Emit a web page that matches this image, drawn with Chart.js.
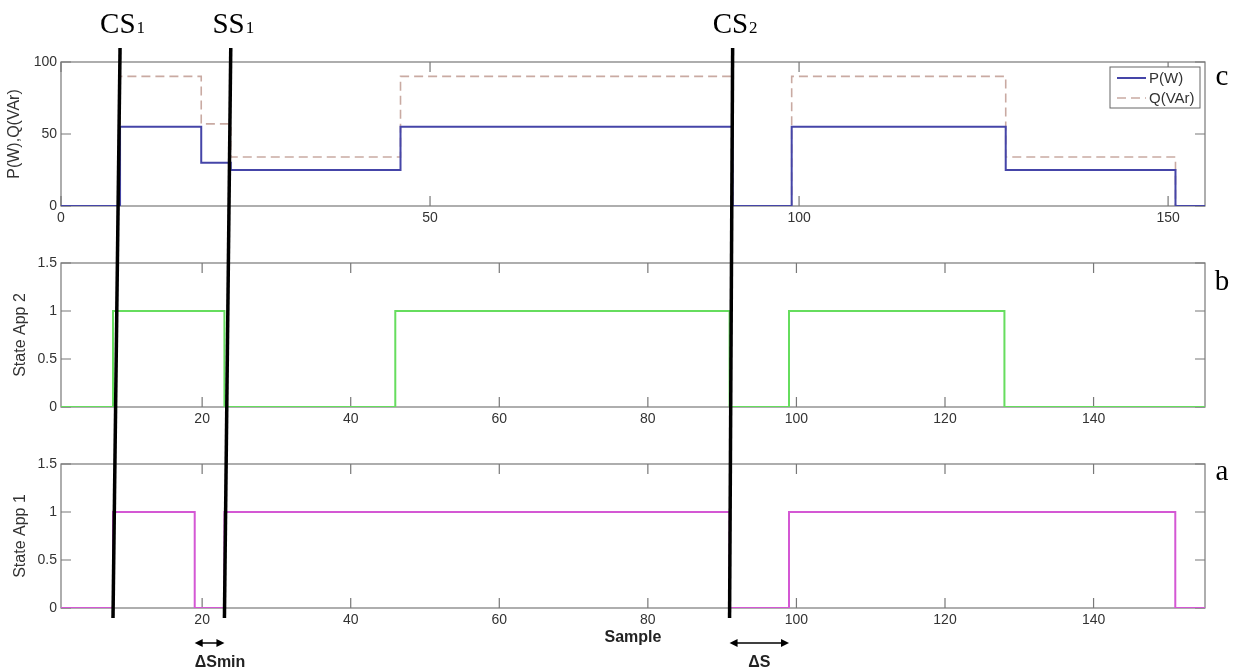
<!DOCTYPE html>
<html>
<head>
<meta charset="utf-8">
<title>Appliance states</title>
<script src="https://cdn.jsdelivr.net/npm/chart.js@4.4.1/dist/chart.umd.min.js"></script>
<style>
  body { margin: 0; background: #fff; }
  #wrap { position: relative; width: 1240px; height: 671px; background: #fff; }
  #wrap canvas { position: absolute; left: 0; }
  #power_canvas { top: 0; }
  #app2_canvas { top: 230px; }
  #app1_canvas { top: 430px; }
  #overlay_canvas { top: 0; pointer-events: none; }
</style>
</head>
<body>
<div id="wrap">
  <canvas id="power_canvas" width="1240" height="230"></canvas>
  <canvas id="app2_canvas" width="1240" height="200"></canvas>
  <canvas id="app1_canvas" width="1240" height="241"></canvas>
  <canvas id="overlay_canvas" width="1240" height="671"></canvas>
</div>
<script>
// change points (sample) and the value held from that sample on
var powerSamples = [0, 8, 19, 23, 46, 91, 99, 128, 151, 155];
var pValues = [0, 55, 30, 25, 55, 0, 55, 25, 0, 0];
var qValues = [0, 90, 57, 34, 90, 0, 90, 34, 0, 0];

var app2Samples = [1, 8, 23, 46, 91, 99, 128, 155];
var app2States = [0, 1, 0, 1, 0, 1, 0, 0];

var app1Samples = [1, 8, 19, 23, 91, 99, 151, 155];
var app1States = [0, 1, 0, 1, 0, 1, 0, 0];

var powerXTicks = [0, 50, 100, 150];
var powerYTicks = [0, 50, 100];
var stateXTicks = [20, 40, 60, 80, 100, 120, 140];
var stateYTicks = [0, 0.5, 1, 1.5];

// markers drawn across the three panels
var markerNames = ['CS', 'SS', 'CS'];
var markerIndex = ['1', '1', '2'];
var markerSamples = [8, 23, 91];

var gapNames = ['\u0394Smin', '\u0394S'];
var gapFrom = [19, 91];
var gapTo = [23, 99];

var panelLetters = ['c', 'b', 'a'];

var SANS = '"Liberation Sans", Arial, sans-serif';
var SERIF = '"Liberation Serif", "Times New Roman", serif';

function toPoints(xs, ys) {
    return xs.map(function (x, i) { return {x: x, y: ys[i]}; });
}

// box + inward tick marks, matlab style
var matlabAxes = {
    id: 'matlabAxes',
    beforeDatasetsDraw: function (chart) {
        var ctx = chart.ctx, a = chart.chartArea;
        var xs = chart.scales.x, ys = chart.scales.y;
        ctx.save();
        ctx.strokeStyle = '#787878';
        ctx.lineWidth = 1.2;
        ctx.strokeRect(a.left, a.top, a.right - a.left, a.bottom - a.top);
        ctx.beginPath();
        xs.ticks.forEach(function (t) {
            var px = xs.getPixelForValue(t.value);
            ctx.moveTo(px, a.bottom); ctx.lineTo(px, a.bottom - 10);
            ctx.moveTo(px, a.top); ctx.lineTo(px, a.top + 10);
        });
        ys.ticks.forEach(function (t) {
            var py = ys.getPixelForValue(t.value);
            ctx.moveTo(a.left, py); ctx.lineTo(a.left + 10, py);
            ctx.moveTo(a.right, py); ctx.lineTo(a.right - 10, py);
        });
        ctx.stroke();
        ctx.restore();
    }
};

// legend inside the plot, top right, with a frame
var boxLegend = {
    id: 'boxLegend',
    afterDatasetsDraw: function (chart, args, opts) {
        if (!opts.show) return;
        var ctx = chart.ctx, a = chart.chartArea;
        var x0 = a.right - 95, y0 = a.top + 5;
        ctx.save();
        ctx.fillStyle = '#fff';
        ctx.fillRect(x0, y0, 90, 41);
        ctx.strokeStyle = '#666';
        ctx.lineWidth = 1;
        ctx.strokeRect(x0, y0, 90, 41);
        chart.data.datasets.forEach(function (ds, i) {
            var y = y0 + 11 + i * 20;
            ctx.strokeStyle = ds.borderColor;
            ctx.lineWidth = ds.borderWidth;
            ctx.setLineDash(ds.borderDash || []);
            ctx.beginPath();
            ctx.moveTo(x0 + 7, y); ctx.lineTo(x0 + 36, y);
            ctx.stroke();
            ctx.setLineDash([]);
            ctx.fillStyle = '#333';
            ctx.font = '15px ' + SANS;
            ctx.textBaseline = 'middle';
            ctx.fillText(ds.label, x0 + 39, y + 1);
        });
        ctx.restore();
    }
};

function makePanel(id, datasets, cfg) {
    return new Chart(document.getElementById(id), {
        type: 'line',
        data: {datasets: datasets},
        plugins: [matlabAxes, boxLegend],
        options: {
            responsive: false,
            animation: false,
            events: [],
            layout: {padding: {top: cfg.padTop, right: 35, bottom: 0, left: 0}},
            elements: {point: {radius: 0}, line: {stepped: true, tension: 0}},
            plugins: {
                legend: {display: false},
                tooltip: {enabled: false},
                boxLegend: {show: !!cfg.legend}
            },
            scales: {
                x: {
                    type: 'linear',
                    min: cfg.xMin,
                    max: cfg.xMax,
                    grid: {display: false, drawTicks: false},
                    border: {display: false},
                    afterBuildTicks: function (s) {
                        s.ticks = cfg.xTicks.map(function (v) { return {value: v}; });
                    },
                    afterFit: function (s) { s.height = cfg.xHeight; },
                    ticks: {
                        padding: 4,
                        color: '#333',
                        autoSkip: false,
                        maxRotation: 0,
                        font: {size: 14, family: SANS},
                        callback: function (v) { return String(v); }
                    },
                    title: {
                        display: !!cfg.xTitle,
                        text: cfg.xTitle || '',
                        color: '#222',
                        font: {size: 16, weight: 'bold', family: SANS},
                        padding: {top: 0, bottom: 24}
                    }
                },
                y: {
                    type: 'linear',
                    min: 0,
                    max: cfg.yMax,
                    grid: {display: false, drawTicks: false},
                    border: {display: false},
                    afterBuildTicks: function (s) {
                        s.ticks = cfg.yTicks.map(function (v) { return {value: v}; });
                    },
                    afterFit: function (s) { s.width = 61; },
                    ticks: {
                        padding: 4,
                        color: '#333',
                        font: {size: 14, family: SANS},
                        callback: function (v) { return String(v); }
                    },
                    title: {
                        display: true,
                        text: cfg.yTitle,
                        color: '#333',
                        font: {size: 16, family: SANS},
                        padding: {top: cfg.yTitlePad, bottom: 0}
                    }
                }
            }
        }
    });
}

var powerChart = makePanel('power_canvas', [
    {label: 'P(W)', data: toPoints(powerSamples, pValues), borderColor: '#4545a8', borderWidth: 2, fill: false},
    {label: 'Q(VAr)', data: toPoints(powerSamples, qValues), borderColor: '#c9aaa2', borderWidth: 1.6, borderDash: [9, 5], fill: false}
], {padTop: 62, xMin: 0, xMax: 155, xTicks: powerXTicks, xHeight: 24, yMax: 100, yTicks: powerYTicks,
    yTitle: 'P(W),Q(VAr)', yTitlePad: 5, legend: true});

var app2Chart = makePanel('app2_canvas', [
    {label: 'State App 2', data: toPoints(app2Samples, app2States), borderColor: '#66dd5e', borderWidth: 2, fill: false}
], {padTop: 33, xMin: 1, xMax: 155, xTicks: stateXTicks, xHeight: 23, yMax: 1.5, yTicks: stateYTicks,
    yTitle: 'State App 2', yTitlePad: 11});

var app1Chart = makePanel('app1_canvas', [
    {label: 'State App 1', data: toPoints(app1Samples, app1States), borderColor: '#d458d4', borderWidth: 2, fill: false}
], {padTop: 34, xMin: 1, xMax: 155, xTicks: stateXTicks, xHeight: 63, yMax: 1.5, yTicks: stateYTicks,
    yTitle: 'State App 1', yTitlePad: 11, xTitle: 'Sample'});

function arrowHead(ctx, x, y, dir) {
    ctx.beginPath();
    ctx.moveTo(x, y);
    ctx.lineTo(x - dir * 8, y - 4);
    ctx.lineTo(x - dir * 8, y + 4);
    ctx.closePath();
    ctx.fill();
}

function drawOverlay() {
    var ov = document.getElementById('overlay_canvas').getContext('2d');
    var charts = [powerChart, app2Chart, app1Chart];
    var topScale = powerChart.scales.x, botScale = app1Chart.scales.x;
    var topOff = powerChart.canvas.offsetTop, botOff = app1Chart.canvas.offsetTop;
    var y0 = topOff + powerChart.chartArea.top - 14;
    var y1 = botOff + app1Chart.chartArea.bottom + 10;

    ov.fillStyle = '#000';
    ov.strokeStyle = '#000';
    ov.textBaseline = 'alphabetic';
    ov.textAlign = 'left';

    markerSamples.forEach(function (s, i) {
        var xa = topScale.getPixelForValue(s), xb = botScale.getPixelForValue(s);
        ov.lineWidth = 3.5;
        ov.beginPath();
        ov.moveTo(xa, y0);
        ov.lineTo(xb, y1);
        ov.stroke();

        ov.font = '29px ' + SERIF;
        var w1 = ov.measureText(markerNames[i]).width;
        ov.font = '17px ' + SERIF;
        var w2 = ov.measureText(markerIndex[i]).width;
        var left = xa + 2 - (w1 + w2) / 2;
        ov.font = '29px ' + SERIF;
        ov.fillText(markerNames[i], left, 33);
        ov.font = '17px ' + SERIF;
        ov.fillText(markerIndex[i], left + w1 + 1, 33);
    });

    // gap arrows under the bottom panel
    var ya = botOff + app1Chart.chartArea.bottom + 35;
    gapNames.forEach(function (name, i) {
        var xa = botScale.getPixelForValue(gapFrom[i]), xb = botScale.getPixelForValue(gapTo[i]);
        ov.lineWidth = 1.5;
        ov.beginPath();
        ov.moveTo(xa + 4, ya);
        ov.lineTo(xb - 4, ya);
        ov.stroke();
        arrowHead(ov, xa, ya, -1);
        arrowHead(ov, xb, ya, 1);

        ov.font = 'bold 16px ' + SANS;
        ov.fillStyle = '#222';
        var w = ov.measureText(name).width;
        var tx = (w > xb - xa) ? xa : (xa + xb) / 2 - w / 2;
        ov.fillText(name, tx, ya + 24);
        ov.fillStyle = '#000';
    });

    // panel letters on the right
    var letterDrop = [23, 27, 16];
    ov.font = '29px ' + SERIF;
    ov.textAlign = 'center';
    charts.forEach(function (c, i) {
        ov.fillText(panelLetters[i], c.chartArea.right + 17, c.canvas.offsetTop + c.chartArea.top + letterDrop[i]);
    });
}

drawOverlay();
</script>
</body>
</html>
